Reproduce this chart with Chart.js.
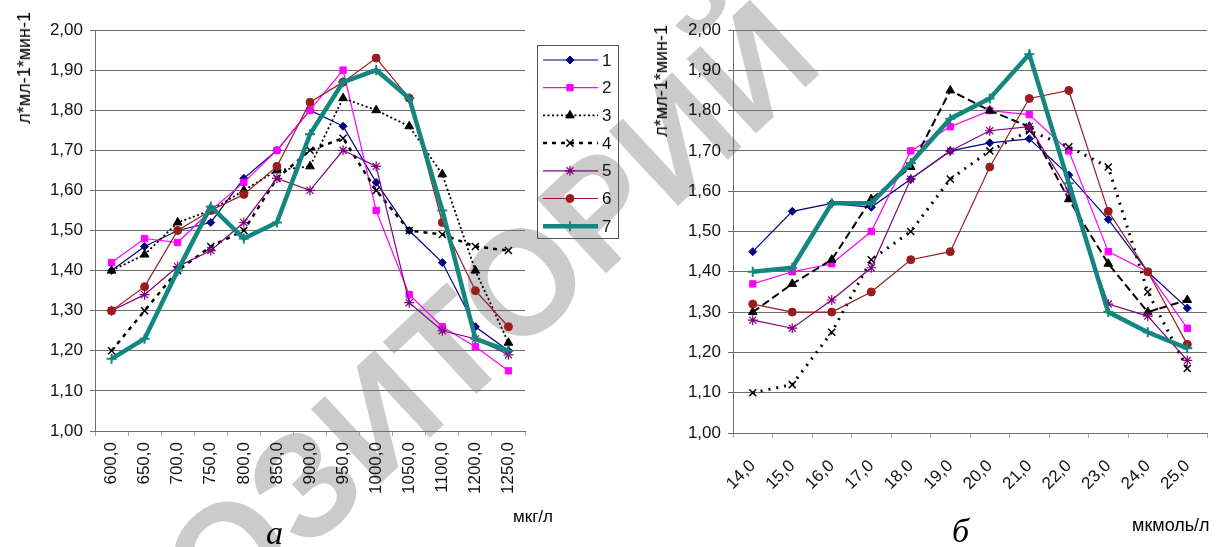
<!DOCTYPE html>
<html>
<head>
<meta charset="utf-8">
<script src="https://cdn.jsdelivr.net/npm/chart.js@4/dist/chart.umd.min.js"></script>
<style>
  html, body { margin: 0; padding: 0; background: #fff; }
  body { width: 1216px; height: 547px; position: relative; overflow: hidden; font-family: "Liberation Sans", Arial, sans-serif; }
  canvas { position: absolute; top: 0; z-index: 1; }
  #c1 { left: 0; }
  #c2 { left: 640px; }
  .wm { position: absolute; left: 378px; top: 416px; z-index: 0; white-space: nowrap;
        font: bold 148px "Liberation Sans", Arial, sans-serif; line-height: 1; color: #cbcbcb;
        transform: translate(-50%, -50%) rotate(-43deg); }
  .ytitle { position: absolute; z-index: 2; font-size: 18px; color: #000; line-height: 1;
            writing-mode: vertical-rl; transform: rotate(180deg); white-space: nowrap; }
  .unit { position: absolute; z-index: 2; font-size: 17px; color: #000; line-height: 1; white-space: nowrap; }
  .letter { position: absolute; z-index: 2; font: italic 34px "Liberation Serif", "Times New Roman", serif; line-height: 1; }
</style>
</head>
<body>
<div class="wm">РЕПОЗИТОРИЙ</div>
<canvas id="c1" width="640" height="547"></canvas>
<canvas id="c2" width="580" height="547"></canvas>
<div class="ytitle" style="left:15px; top:12px;">л*мл-1*мин-1</div>
<div class="ytitle" style="left:652px; top:25px;">л*мл-1*мин-1</div>
<div class="unit" style="left:513px; top:508px;">мкг/л</div>
<div class="unit" style="left:1132px; top:516px; font-size:18px;">мкмоль/л</div>
<div class="letter" style="left:266px; top:516px;">а</div>
<div class="letter" style="left:952px; top:514px;">б</div>
<script>
// --- chart a: мкг/л ---
const leftLabels = ['600,0','650,0','700,0','750,0','800,0','850,0','900,0','950,0','1000,0','1050,0','1100,0','1200,0','1250,0'];
const left1 = [1.40, 1.46, 1.50, 1.52, 1.63, 1.70, 1.80, 1.76, 1.62, 1.50, 1.42, 1.26, 1.20];
const left2 = [1.42, 1.48, 1.47, 1.55, 1.62, 1.70, 1.80, 1.90, 1.55, 1.34, 1.26, 1.21, 1.15];
const left3 = [1.40, 1.44, 1.52, 1.55, 1.60, 1.65, 1.66, 1.83, 1.80, 1.76, 1.64, 1.40, 1.22];
const left4 = [1.20, 1.30, 1.40, 1.46, 1.50, 1.63, 1.70, 1.73, 1.60, 1.50, 1.49, 1.46, 1.45];
const left5 = [1.30, 1.34, 1.41, 1.45, 1.52, 1.63, 1.60, 1.70, 1.66, 1.32, 1.25, 1.23, 1.19];
const left6 = [1.30, 1.36, 1.50, 1.55, 1.59, 1.66, 1.82, 1.87, 1.93, 1.83, 1.52, 1.35, 1.26];
const left7 = [1.18, 1.23, 1.40, 1.56, 1.48, 1.52, 1.74, 1.87, 1.90, 1.83, 1.55, 1.23, 1.20];

// --- chart б: мкмоль/л ---
const rightLabels = ['14,0','15,0','16,0','17,0','18,0','19,0','20,0','21,0','22,0','23,0','24,0','25,0'];
const right1 = [1.45, 1.55, 1.57, 1.56, 1.63, 1.70, 1.72, 1.73, 1.64, 1.53, 1.40, 1.31];
const right2 = [1.37, 1.40, 1.42, 1.50, 1.70, 1.76, 1.80, 1.79, 1.70, 1.45, 1.40, 1.26];
const right3 = [1.30, 1.37, 1.43, 1.58, 1.66, 1.85, 1.80, 1.76, 1.58, 1.42, 1.30, 1.33];
const right4 = [1.10, 1.12, 1.25, 1.43, 1.50, 1.63, 1.70, 1.75, 1.71, 1.66, 1.35, 1.16];
const right5 = [1.28, 1.26, 1.33, 1.41, 1.63, 1.70, 1.75, 1.76, 1.60, 1.32, 1.29, 1.18];
const right6 = [1.32, 1.30, 1.30, 1.35, 1.43, 1.45, 1.66, 1.83, 1.85, 1.55, 1.40, 1.22];
const right7 = [1.40, 1.41, 1.57, 1.57, 1.67, 1.78, 1.83, 1.94, 1.62, 1.30, 1.25, 1.21];

const seriesNames = ['1', '2', '3', '4', '5', '6', '7'];
const yTicks = { min: 1, max: 2, step: 0.1 };

const FONT = "'Liberation Sans', Arial, sans-serif";

// styles of the 7 series (dash patterns differ a bit between the two charts)
function makeSets(values, dash3, dash4, w3, w4) {
  const st = [
    { c: '#000080', w: 1.2, p: 'rectRot', r: 4 },
    { c: '#ff00ff', w: 1.2, p: 'rect', r: 4.5 },
    { c: '#000000', w: w3, p: 'triangle', r: 5, d: dash3 },
    { c: '#000000', w: w4, p: 'crossRot', r: 5, d: dash4, pb: 1.5 },
    { c: '#800080', w: 1.2, p: 'star', r: 5, pb: 1.2 },
    { c: '#9a1c1c', w: 1.2, p: 'circle', r: 4 },
    { c: '#13877f', w: 4.5, p: 'cross', r: 5, pb: 2 }
  ];
  return values.map((v, i) => ({
    label: seriesNames[i],
    data: v,
    borderColor: st[i].c,
    backgroundColor: st[i].c,
    borderWidth: st[i].w,
    borderDash: st[i].d || [],
    pointStyle: st[i].p,
    pointRadius: st[i].r,
    pointBorderWidth: st[i].pb || 1,
    pointBackgroundColor: st[i].c,
    pointBorderColor: st[i].c,
    tension: 0,
    fill: false,
    order: 6 - i
  }));
}

function yAxis(width) {
  return {
    min: yTicks.min, max: yTicks.max,
    afterFit: s => { s.width = width; },
    grid: { color: '#6e6e6e', lineWidth: 1, tickLength: 5, tickColor: '#6e6e6e' },
    border: { display: true, color: '#6e6e6e' },
    ticks: {
      stepSize: yTicks.step, padding: 7, color: '#111',
      font: { family: FONT, size: 17 },
      callback: v => v.toFixed(2).replace('.', ',')
    }
  };
}

function xAxis(height, rot, pad) {
  return {
    type: 'category', offset: true,
    afterFit: s => { s.height = height; },
    grid: { display: true, drawOnChartArea: false, offset: true, tickLength: 5, tickColor: '#aaa' },
    border: { display: true, color: '#6e6e6e' },
    ticks: {
      autoSkip: false, minRotation: rot, maxRotation: rot, padding: pad, color: '#111',
      font: { family: FONT, size: 17 }
    }
  };
}

// boxed legend like in the original figure
const legendBox = {
  id: 'legendBox',
  afterDraw(chart) {
    const ctx = chart.ctx;
    const x0 = 537, y0 = 45, w = 81, h = 193;
    ctx.save();
    ctx.strokeStyle = '#555';
    ctx.lineWidth = 1;
    ctx.setLineDash([]);
    ctx.strokeRect(x0 + 0.5, y0 + 0.5, w, h);
    const sets = chart.data.datasets;
    sets.forEach((ds, i) => {
      const y = y0 + 15 + i * 27.7;
      ctx.save();
      ctx.strokeStyle = ds.borderColor;
      ctx.lineWidth = ds.borderWidth;
      ctx.setLineDash(ds.borderDash);
      ctx.beginPath();
      ctx.moveTo(x0 + 6, y);
      ctx.lineTo(x0 + 61, y);
      ctx.stroke();
      ctx.setLineDash([]);
      ctx.fillStyle = ds.pointBackgroundColor;
      ctx.strokeStyle = ds.pointBorderColor;
      ctx.lineWidth = ds.pointBorderWidth;
      Chart.helpers.drawPoint(ctx, { pointStyle: ds.pointStyle, radius: ds.pointRadius, rotation: 0, borderWidth: ds.pointBorderWidth }, x0 + 33, y);
      ctx.restore();
      ctx.fillStyle = '#111';
      ctx.font = '17px ' + FONT;
      ctx.textBaseline = 'middle';
      ctx.fillText(ds.label, x0 + 65, y + 1);
    });
    ctx.restore();
  }
};

new Chart(document.getElementById('c1'), {
  type: 'line',
  data: {
    labels: leftLabels,
    datasets: makeSets([left1, left2, left3, left4, left5, left6, left7], [2, 2.5], [4, 5], 1.8, 2.5)
  },
  options: {
    responsive: false, animation: false,
    layout: { padding: { left: 0, top: 30, right: 115, bottom: 0 } },
    plugins: { legend: { display: false }, tooltip: { enabled: false } },
    scales: { x: xAxis(116, 90, 6), y: yAxis(95) }
  },
  plugins: [legendBox]
});

new Chart(document.getElementById('c2'), {
  type: 'line',
  data: {
    labels: rightLabels,
    datasets: makeSets([right1, right2, right3, right4, right5, right6, right7], [8, 4], [2, 6], 2, 3)
  },
  options: {
    responsive: false, animation: false,
    layout: { padding: { left: 0, top: 30, right: 0, bottom: 0 } },
    plugins: { legend: { display: false }, tooltip: { enabled: false } },
    scales: { x: xAxis(114, 45, 18), y: yAxis(93) }
  }
});
</script>
</body>
</html>
